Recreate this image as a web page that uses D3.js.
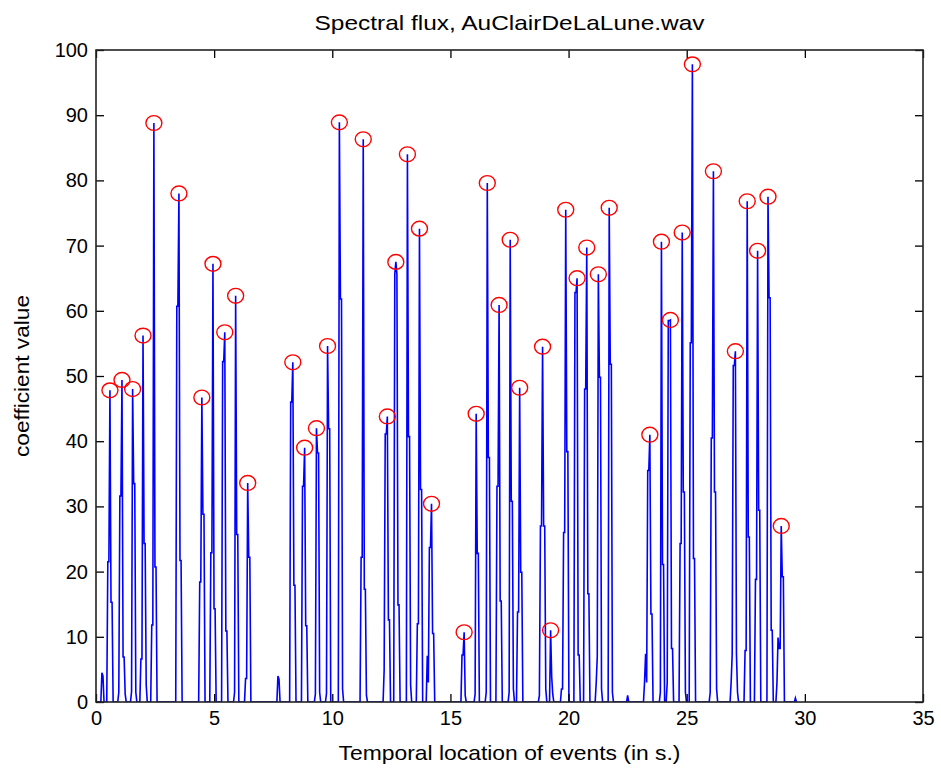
<!DOCTYPE html>
<html>
<head>
<meta charset="utf-8">
<script src="https://cdn.jsdelivr.net/npm/d3@7"></script>
<style>
    body { margin: 0; background: #fff; }
    #chart { width: 941px; height: 774px; }
    text { font-family: "Liberation Sans", Arial, sans-serif; fill: #000; }
</style>
</head>
<body>
<div id="chart"></div>
<script>

// detected onsets (red circles)
var peakTimes = [0.59, 1.10, 1.55, 1.99, 2.45, 3.51, 4.48, 4.95, 5.45, 5.91, 6.42,
    8.33, 8.83, 9.33, 9.80, 10.30, 11.31, 12.33, 12.69, 13.18, 13.69, 14.20,
    15.58, 16.09, 16.56, 17.06, 17.53, 17.93, 18.90, 19.24, 19.88, 20.36, 20.77, 21.26, 21.72,
    23.44, 23.93, 24.31, 24.81, 25.24, 26.13, 27.06, 27.56, 28.00, 28.44, 29.00];
var peakValues = [47.8, 49.4, 48.0, 56.2, 88.8, 78.0, 46.7, 67.2, 56.7, 62.3, 33.6,
    52.1, 39.0, 42.0, 54.6, 88.9, 86.3, 43.8, 67.5, 84.0, 72.6, 30.4,
    10.7, 44.2, 79.6, 60.9, 70.9, 48.2, 54.5, 11.0, 75.5, 65.0, 69.7, 65.6, 75.8,
    41.0, 70.6, 58.6, 72.0, 97.8, 81.4, 53.8, 76.8, 69.2, 77.5, 27.0];

// flux frames just before / after each peak
var riseValues = [[21.5, 21.5], [1.5, 31.6, 31.6], [1.6], [6.6, 6.6], [11.8, 11.8], [60.7, 60.7],
    [18.4, 18.4], [22.9, 22.9], [52.2, 52.2], [1.5], [3.6, 3.6],
    [46.0, 46.0], [33.1, 33.1], [1.2], [1.3], [], [22.2, 22.2], [4.9, 41.1, 41.1], [65.6], [],
    [12.0, 12.0], [7.1, 3.0, 23.7, 23.7],
    [7.2, 7.2], [1.2], [1.5], [33.1, 33.1], [1.5], [13.8, 13.8], [1.0, 27.0, 27.0], [],
    [2.0, 2.0, 26.0, 26.0], [62.8, 62.8], [48.0, 48.0], [3.0, 7.0], [],
    [3.0, 7.4, 3.0, 35.5, 35.5], [1.5], [3.0, 58.5, 58.5], [24.3, 24.3], [55.1, 55.1],
    [1.5, 40.5, 40.5], [3.0, 7.4, 51.6, 51.6], [7.9, 7.9], [18.8, 18.8], [], [3.0, 9.9, 8.2, 8.2]];
var fallValues = [[15.3, 15.3], [6.9, 6.9, 1.2], [33.5, 33.5, 1.5], [24.3, 24.3, 2.6], [20.7, 20.7], [21.7, 21.7],
    [28.8, 28.8], [14.3, 14.3], [10.9, 10.9], [25.7, 25.7], [22.2, 22.2],
    [17.9, 17.9], [11.7, 11.7], [38.2, 38.2, 1.5], [41.9, 41.9], [61.8, 61.8, 2.0], [17.3, 17.3, 1.0],
    [12.6, 12.6], [65.6, 14.9, 14.9], [40.7, 40.7, 2.6], [32.6, 32.6], [10.5, 10.5],
    [1.0], [22.8, 22.8], [37.5, 37.5], [15.5, 15.5], [30.8, 30.8, 2.0], [19.9, 19.9], [27.0, 27.0, 2.0], [3.9, 1.2],
    [38.4, 38.4], [7.2, 7.2], [16.6, 16.6], [49.8, 49.8, 2.0], [51.8, 51.8, 1.5],
    [13.5, 13.5], [21.1, 21.1], [8.2, 8.2], [32.2, 32.2, 1.5], [22.0, 22.0],
    [32.2, 32.2, 2.0], [7.4, 1.5], [25.3, 25.3], [29.4, 29.4], [62.0, 62.0, 11.0, 11.0], [19.2, 19.2]];

// small bumps without a detected onset
var minorTimes = [0.25, 7.70, 22.50, 29.60];
var minorValues = [[4.5, 4.0], [4.0, 3.5], [1.0], [0.6]];

var xTicks = [0, 5, 10, 15, 20, 25, 30, 35];
var yTicks = [0, 10, 20, 30, 40, 50, 60, 70, 80, 90, 100];

var frameStep = 0.045;


class SpectralFluxChart {

    constructor() {

        this._margin = {
            left: 96,
            top: 50,
            right: 18,
            bottom: 72
        };
        this._width = 941;
        this._height = 774;
        this._tickSize = 8;
    }


    renderTo(selector) {

        var xScale = this._getXScale();
        var yScale = this._getYScale();
        var w = this._getInnerWidth();
        var h = this._getInnerHeight();

        this._svg = d3.select(selector)
            .append('svg')
            .attr('width', this._width)
            .attr('height', this._height);

        this._svg.append('defs')
            .append('clipPath')
            .attr('id', 'plot-clip')
            .append('rect')
            .attr('width', w)
            .attr('height', h);

        this._canvas = this._svg
            .append('g')
            .attr('transform', 'translate(' + [this._margin.left, this._margin.top] + ')');

        var line = d3.line()
            .x(d => xScale(d[0]))
            .y(d => yScale(d[1]));

        this._canvas.append('path')
            .datum(this._buildSeries())
            .attr('clip-path', 'url(#plot-clip)')
            .attr('fill', 'none')
            .attr('stroke', '#0000ff')
            .attr('stroke-width', 1.6)
            .attr('stroke-linejoin', 'miter')
            .attr('d', line);

        this._canvas.selectAll('ellipse.peak')
            .data(peakTimes)
            .enter()
            .append('ellipse')
            .attr('class', 'peak')
            .attr('cx', d => xScale(d))
            .attr('cy', (d, i) => yScale(peakValues[i]))
            .attr('rx', 8)
            .attr('ry', 7.4)
            .attr('fill', 'none')
            .attr('stroke', '#ff0000')
            .attr('stroke-width', 1.4);

        this._drawAxes(xScale, yScale, w, h);

        this._addLabel(this._margin.left + w / 2, 30, 'Spectral flux, AuClairDeLaLune.wav', 390);
        this._addLabel(this._margin.left + w / 2, 760, 'Temporal location of events (in s.)', 342);
        this._addLabel(0, 0, 'coefficient value', 162)
            .attr('transform', 'translate(29,' + (this._margin.top + h / 2) + ') rotate(-90)');

        return this;
    }


    _addLabel(x, y, text, length) {

        return this._svg.append('text')
            .attr('x', x)
            .attr('y', y)
            .attr('text-anchor', 'middle')
            .attr('textLength', length)
            .attr('lengthAdjust', 'spacingAndGlyphs')
            .style('font-size', '21px')
            .text(text);
    }


    _drawAxes(xScale, yScale, w, h) {

        var t = this._tickSize;

        var bottom = this._canvas.append('g')
            .attr('transform', 'translate(0,' + h + ')')
            .call(d3.axisBottom(xScale).tickValues(xTicks).tickSizeInner(-t).tickSizeOuter(0).tickPadding(9));
        var left = this._canvas.append('g')
            .call(d3.axisLeft(yScale).tickValues(yTicks).tickSizeInner(-t).tickSizeOuter(0).tickPadding(8));
        var top = this._canvas.append('g')
            .call(d3.axisTop(xScale).tickValues(xTicks).tickSizeInner(-t).tickSizeOuter(0).tickFormat(''));
        var right = this._canvas.append('g')
            .attr('transform', 'translate(' + w + ',0)')
            .call(d3.axisRight(yScale).tickValues(yTicks).tickSizeInner(-t).tickSizeOuter(0).tickFormat(''));

        [bottom, left, top, right].forEach(function(g) {
            g.select('.domain').remove();
            g.selectAll('line').attr('stroke', '#000').attr('stroke-width', 1.3);
            g.selectAll('text').style('font-size', '20px').attr('fill', '#000');
        });

        this._canvas.append('rect')
            .attr('width', w)
            .attr('height', h)
            .attr('fill', 'none')
            .attr('stroke', '#222')
            .attr('stroke-width', 1.6);
    }


    _buildSeries() {

        var segments = peakTimes.map(function(t, i) {
            var rise = riseValues[i];
            return {
                start: t - rise.length * frameStep,
                values: rise.concat([peakValues[i]], fallValues[i])
            };
        });
        minorTimes.forEach(function(t, i) {
            segments.push({ start: t, values: minorValues[i] });
        });
        segments.sort((a, b) => a.start - b.start);

        var points = [[0, 0]];
        segments.forEach(function(s) {
            points.push([s.start - frameStep, 0]);
            s.values.forEach(function(v, k) {
                points.push([s.start + k * frameStep, v]);
            });
            points.push([s.start + s.values.length * frameStep, 0]);
        });

        return points;
    }


    _getXScale() {

        return d3.scaleLinear()
            .domain([0, 35])
            .range([0, this._getInnerWidth()]);
    }


    _getYScale() {

        return d3.scaleLinear()
            .domain([0, 100])
            .range([this._getInnerHeight(), 0]);
    }


    _getInnerWidth() {

        return this._width - this._margin.left - this._margin.right;
    }


    _getInnerHeight() {

        return this._height - this._margin.top - this._margin.bottom;
    }
}


new SpectralFluxChart().renderTo('#chart');

</script>
</body>
</html>
